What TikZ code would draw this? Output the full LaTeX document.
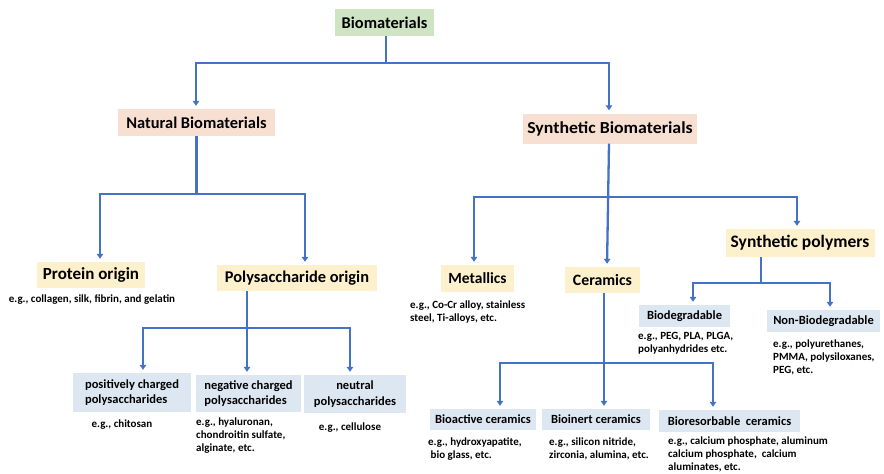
\documentclass[tikz,border=0pt]{standalone}
\usepackage{fontspec}
\setmainfont{Carlito}
\usetikzlibrary{arrows.meta}
\definecolor{lgreen}{RGB}{206,228,194}
\definecolor{lpink}{RGB}{247,223,210}
\definecolor{lyellow}{RGB}{253,240,204}
\definecolor{lblue}{RGB}{221,231,242}
\definecolor{lineblue}{RGB}{68,114,196}
\newcommand{\fs}[1]{\fontsize{#1}{#1}\selectfont\bfseries}
\tikzset{
  box/.style={rectangle, inner sep=1pt, align=center, font=\bfseries},
  gbox/.style={box, fill=lgreen},
  pbox/.style={box, fill=lpink},
  ybox/.style={box, fill=lyellow},
  bbox/.style={box, fill=lblue, font=\fontsize{12.5}{15.5}\selectfont\bfseries},
  ex/.style={inner sep=0pt, align=left, font=\fontsize{11}{13}\selectfont\bfseries},
  conn/.style={draw=lineblue, line width=2.3pt},
  arr/.style={conn, -{Triangle[width=6.5pt,length=5pt]}, shorten >=3pt},
}
\begin{document}
\begin{tikzpicture}[x=1pt,y=-1pt]
\useasboundingbox (0,0) rectangle (884,474);
% level 0
\node[gbox, minimum width=99pt, minimum height=27pt, font=\fs{16.4}] (bio) at (384.5,22.5) {Biomaterials};
% level 1
\node[pbox, minimum width=157pt, minimum height=27pt, font=\fs{16.4}] (nat) at (196.5,122.5) {Natural Biomaterials};
\node[pbox, minimum width=174pt, minimum height=30pt, font=\fs{16.8}] (syn) at (610,128.5) {\scalebox{1.06}[1]{Synthetic Biomaterials}};
% level 2
\node[ybox, minimum width=108pt, minimum height=26pt, font=\fs{17}] (prot) at (91,275) {Protein origin};
\node[ybox, minimum width=160pt, minimum height=26pt, font=\fs{16.4}] (poly) at (297,278) {Polysaccharide origin};
\node[ybox, minimum width=73pt, minimum height=27pt, font=\fs{15.5}] (metal) at (477.5,278.5) {Metallics};
\node[ybox, minimum width=75pt, minimum height=26pt, font=\fs{15.8}] (ceram) at (602.5,280) {Ceramics};
\node[ybox, minimum width=149pt, minimum height=28pt, font=\fs{17.5}] (spoly) at (800,243) {Synthetic polymers};
% level 3
\node[bbox, minimum width=118pt, minimum height=39pt, align=left] (pos) at (132,392.5) {positively charged\\polysaccharides};
\node[bbox, minimum width=105pt, minimum height=37pt, align=left] (neg) at (248.5,393.5) {negative charged\\polysaccharides};
\node[bbox, minimum width=102pt, minimum height=38pt] (neu) at (355,394) {neutral\\polysaccharides};
\node[bbox, minimum width=91pt, minimum height=22pt] (biodeg) at (684.5,316) {Biodegradable};
\node[bbox, minimum width=113pt, minimum height=22pt] (nonbio) at (823.5,321) {Non-Biodegradable};
\node[bbox, minimum width=106pt, minimum height=21pt] (bioact) at (483,419.5) {Bioactive ceramics};
\node[bbox, minimum width=108pt, minimum height=21pt] (bioinert) at (596,419.5) {Bioinert ceramics};
\node[bbox, minimum width=141pt, minimum height=22pt] (biores) at (729.5,421) {Bioresorbable\ \ ceramics};
% examples
\node[ex, anchor=north] (exprot) at (92,295) {e.g., collagen, silk, fibrin, and gelatin};
\node[ex, anchor=north] (expos) at (122,420) {e.g., chitosan};
\node[ex, anchor=north west] (exneg) at (196,418) {e.g., hyaluronan,\\chondroitin sulfate,\\alginate, etc.};
\node[ex, anchor=north] (exneu) at (350,423) {e.g., cellulose};
\node[ex, anchor=north west] (exmetal) at (410,301) {e.g., Co-Cr alloy, stainless\\steel, Ti-alloys, etc.};
\node[ex, anchor=north west] (exbiodeg) at (638,332) {e.g., PEG, PLA, PLGA,\\polyanhydrides etc.};
\node[ex, anchor=north west] (exnonbio) at (773,340) {e.g., polyurethanes,\\PMMA, polysiloxanes,\\PEG, etc.};
\node[ex, anchor=north west] (exbioact) at (428,438) {e.g., hydroxyapatite,\\\ bio glass, etc.};
\node[ex, anchor=north west] (exbioinert) at (549,438) {e.g., silicon nitride,\\zirconia, alumina, etc.};
\node[ex, anchor=north west] (exbiores) at (668,437) {e.g., calcium phosphate, aluminum\\calcium phosphate,\ \ calcium\\aluminates, etc.};
% junctions
\coordinate (j0) at (386,63);
\coordinate (j1) at (196.5,194);
\coordinate (j2) at (609,197);
\coordinate (j3) at (247,328);
\coordinate (j4) at (761,283);
\coordinate (j5) at (604,363);
% connectors
\draw[conn] ([xshift=1.5pt]bio.south) -- (j0);
\draw[arr] (j0) -| ([xshift=-0.5pt]nat.north);
\draw[arr] (j0) -| ([xshift=-1pt]syn.north);
\draw[conn] (nat.south) -- (j1);
\draw[arr] (j1) -| ([xshift=9pt]prot.north);
\draw[arr] (j1) -| ([xshift=8pt]poly.north);
\draw[arr] ([xshift=-1pt]syn.south) -- ([xshift=4.5pt]ceram.north);
\draw[arr] (j2) -| ([xshift=-3.5pt]metal.north);
\draw[arr] (j2) -| ([xshift=-3pt]spoly.north);
\draw[conn] ([xshift=-50pt]poly.south) -- (j3);
\draw[arr] (j3) -| ([xshift=11pt]pos.north);
\draw[arr] (j3) -- ([xshift=-1.5pt]neg.north);
\draw[arr] (j3) -| ([xshift=-5pt]neu.north);
\draw[conn] ([xshift=-39pt]spoly.south) -- (j4);
\draw[arr] (j4) -| ([xshift=8.5pt]biodeg.north);
\draw[arr] (j4) -| ([xshift=6.5pt]nonbio.north);
\draw[conn] ([xshift=1.5pt]ceram.south) -- (j5);
\draw[arr] (j5) -| ([xshift=17pt]bioact.north);
\draw[arr] (j5) -- ([xshift=8pt]bioinert.north);
\draw[arr] (j5) -| ([xshift=-16.5pt]biores.north);
\end{tikzpicture}
\end{document}
